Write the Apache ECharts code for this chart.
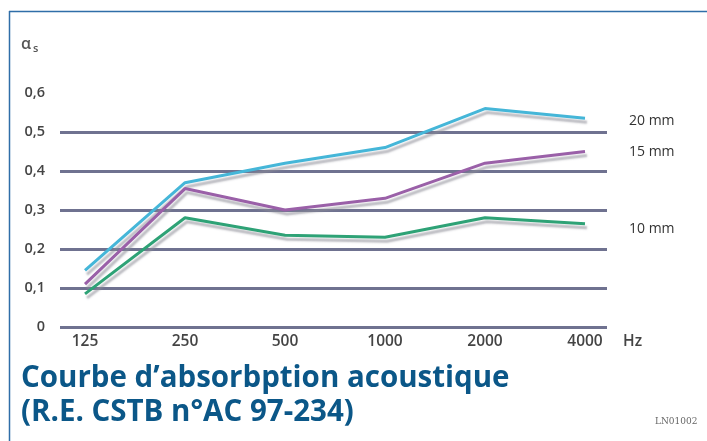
<!DOCTYPE html>
<html>
<head>
<meta charset="utf-8">
<script src="https://cdn.jsdelivr.net/npm/echarts@6/dist/echarts.min.js"></script>
<style>
html,body{margin:0;padding:0;background:#fff;}
#wrap{position:relative;width:707px;height:441px;overflow:hidden;}
#chart{position:absolute;left:0;top:0;width:707px;height:441px;}
</style>
</head>
<body>
<div id="wrap"><div id="chart"></div></div>
<script>
var categories = ['125', '250', '500', '1000', '2000', '4000'];
var yTicks = [0, 0.1, 0.2, 0.3, 0.4, 0.5, 0.6];
var seriesNames = ['20 mm', '15 mm', '10 mm'];
var values20 = [0.145, 0.37, 0.42, 0.46, 0.56, 0.535];
var values15 = [0.11, 0.355, 0.30, 0.33, 0.42, 0.45];
var values10 = [0.085, 0.28, 0.235, 0.23, 0.28, 0.265];
var titleLine1 = 'Courbe d\u2019absorbption acoustique';
var titleLine2 = '(R.E. CSTB n\u00b0AC 97-234)';
var refCode = 'LN01002';

var colors = ['#45b6d8', '#9a60a8', '#2ea276'];
var font = '"Open Sans", "Noto Sans", sans-serif';

function mkSeries(name, vals, color, offY) {
  return {
    name: name,
    type: 'line',
    data: vals.map(function (v, i) { return [i, v]; }),
    symbol: 'none',
    z: 3,
    lineStyle: {
      color: color, width: 3,
      shadowColor: 'rgba(140,140,150,0.6)', shadowBlur: 2,
      shadowOffsetX: 2, shadowOffsetY: 4
    },
    endLabel: {
      show: true,
      formatter: name,
      offset: [36, offY],
      fontFamily: font, fontSize: 14, color: '#333', fontWeight: 500
    }
  };
}

var chart = echarts.init(document.getElementById('chart'), null, {renderer: 'canvas'});
chart.setOption({
  animation: false,
  backgroundColor: '#fff',
  grid: {left: 60, right: 100, top: 93, bottom: 114},
  xAxis: {
    type: 'value',
    min: -0.25,
    max: 5.22,
    axisLine: {show: false},
    axisTick: {show: false},
    splitLine: {show: false},
    axisLabel: {
      customValues: categories.map(function (c, i) { return i; }),
      formatter: function (v) { return categories[Math.round(v)]; },
      fontFamily: font, fontSize: 15.5, color: '#444', fontWeight: 600, margin: 7
    },
    name: 'Hz',
    nameLocation: 'end',
    nameGap: 16,
    nameTextStyle: {fontFamily: font, fontSize: 15.5, color: '#444', fontWeight: 600,
      verticalAlign: 'top', padding: [7, 0, 0, 0]}
  },
  yAxis: {
    type: 'value',
    min: 0,
    max: 0.6,
    interval: 0.1,
    axisLine: {show: false},
    axisTick: {show: false},
    axisLabel: {
      formatter: function (v) { return String(Math.round(v * 10) / 10).replace('.', ','); },
      fontFamily: font, fontSize: 14.5, color: '#444', fontWeight: 600, margin: 15
    },
    splitLine: {
      show: true,
      lineStyle: {
        width: 3,
        color: yTicks.map(function (t) { return t < 0.55 ? '#6f7290' : 'rgba(0,0,0,0)'; })
      }
    }
  },
  series: [
    mkSeries(seriesNames[0], values20, colors[0], 3),
    mkSeries(seriesNames[1], values15, colors[1], 1),
    mkSeries(seriesNames[2], values10, colors[2], 5)
  ],
  graphic: [
    {type: 'line', shape: {x1: 9, y1: 11.5, x2: 707, y2: 11.5}, style: {stroke: '#2f6ea8', lineWidth: 1.5}},
    {type: 'line', shape: {x1: 9.5, y1: 11, x2: 9.5, y2: 441}, style: {stroke: '#2f6ea8', lineWidth: 1.5}},
    {type: 'text', left: 21, top: 36, style: {
      text: '{a|\u03b1}{s|s}',
      rich: {
        a: {fontFamily: font, fontSize: 16, fill: '#555', fontWeight: 600},
        s: {fontFamily: font, fontSize: 11, fill: '#555', fontWeight: 600, padding: [9, 0, 0, 2]}
      }
    }},
    {type: 'text', left: 21, top: 364, style: {text: titleLine1, fill: '#0b5788',
      font: 'bold 29.5px "Open Sans", "Noto Sans", sans-serif'}},
    {type: 'text', left: 21, top: 398, style: {text: titleLine2, fill: '#0b5788',
      font: 'bold 29.5px "Open Sans", "Noto Sans", sans-serif'}},
    {type: 'text', left: 655, top: 417, style: {text: refCode, fill: '#666',
      font: '9px "DejaVu Serif", serif'}}
  ]
});
</script>
</body>
</html>
